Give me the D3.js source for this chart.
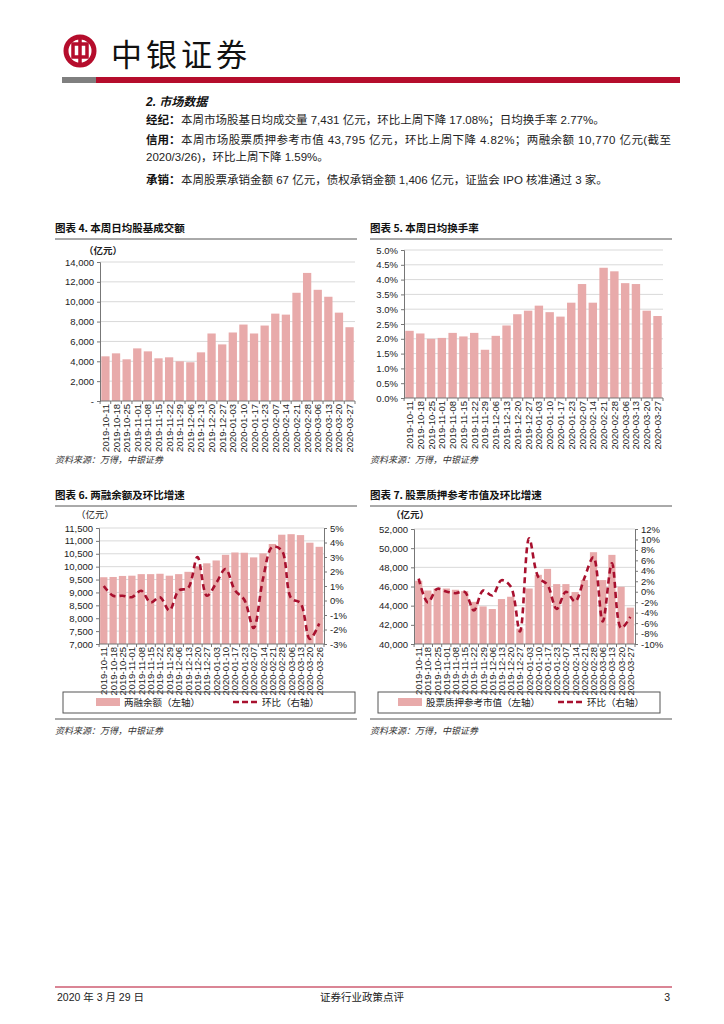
<!DOCTYPE html>
<html>
<head>
<meta charset="utf-8">
<script src="https://cdn.jsdelivr.net/npm/d3@7"></script>
<style>
body { margin: 0; background: #fff; }
svg { display: block; }
</style>
</head>
<body>
<script>
// ---- data ----
var weeksA = ["2019-10-11","2019-10-18","2019-10-25","2019-11-01","2019-11-08","2019-11-15","2019-11-22","2019-11-29","2019-12-06","2019-12-13","2019-12-20","2019-12-27","2020-01-03","2020-01-10","2020-01-17","2020-01-23","2020-02-07","2020-02-14","2020-02-21","2020-02-28","2020-03-06","2020-03-13","2020-03-20","2020-03-27"];
var weeksB = ["2019-10-11","2019-10-18","2019-10-25","2019-11-01","2019-11-08","2019-11-15","2019-11-22","2019-11-29","2019-12-06","2019-12-13","2019-12-20","2019-12-27","2020-01-03","2020-01-10","2020-01-17","2020-01-23","2020-02-07","2020-02-14","2020-02-21","2020-02-28","2020-03-06","2020-03-13","2020-03-20","2020-03-26"];

var turnoverAmt = [4500,4800,4200,5300,5000,4300,4400,4000,3900,4900,6800,5700,6900,7700,6800,7600,8800,8700,10900,12900,11200,10500,8900,7431];
var turnoverRate = [2.27,2.18,2.00,2.03,2.20,2.08,2.20,1.63,2.10,2.45,2.83,2.95,3.12,2.90,2.75,3.22,3.85,3.22,4.40,4.28,3.88,3.85,2.95,2.77];

var marginBal = [9590,9600,9640,9650,9710,9710,9725,9650,9710,9800,10000,10130,10240,10460,10550,10540,10360,10515,10880,11240,11260,11225,10930,10770];
var marginChg = [1.0,0.33,0.33,0.23,0.67,-0.14,0.23,-0.69,0.69,0.86,3.0,0.33,1.2,2.17,0.7,0.05,-1.9,1.5,3.7,3.45,0.16,-0.18,-2.65,-1.59];

var pledgeVal = [46600,45580,45790,45790,45660,45520,44400,43920,43650,44690,44930,41600,45790,47220,47840,46250,46250,45420,46670,49580,46670,49300,45970,43795];
var pledgeChg = [2.5,-2.06,0.55,0.04,-0.28,-0.02,-3.58,0.23,-0.72,2.2,1.0,-7.6,10.2,2.8,1.3,-3.3,0.0,-1.87,2.6,6.6,-5.7,5.45,-6.95,-4.82];

var ticksAmt = [0,2000,4000,6000,8000,10000,12000,14000];
var ticksRate = [0,0.5,1,1.5,2,2.5,3,3.5,4,4.5,5];
var ticksBal = [7000,7500,8000,8500,9000,9500,10000,10500,11000,11500];
var ticksBalChg = [-3,-2,-1,0,1,2,3,4,5];
var ticksPledge = [40000,42000,44000,46000,48000,50000,52000];
var ticksPledgeChg = [-10,-8,-6,-4,-2,0,2,4,6,8,10,12];

// ---- styles ----
var cjk = "'Noto Sans CJK SC', sans-serif";
var num = "'Liberation Sans Narrow', 'Arial Narrow', 'Liberation Sans', 'Noto Sans CJK SC', sans-serif";
var barColor = "#E8AAAA";
var lineColor = "#A8102E";
var red = "#B50D2C";

var svg = d3.select("body").append("svg")
    .attr("width", 724).attr("height", 1024);

// ---- header ----
svg.append("circle").attr("cx", 80).attr("cy", 51).attr("r", 14)
    .attr("fill", "none").attr("stroke", red).attr("stroke-width", 5);
svg.append("rect").attr("x", 73).attr("y", 44).attr("width", 14).attr("height", 13)
    .attr("fill", "none").attr("stroke", red).attr("stroke-width", 3.5);
svg.append("line").attr("x1", 80).attr("x2", 80).attr("y1", 37).attr("y2", 65)
    .attr("stroke", red).attr("stroke-width", 3.5);
svg.append("text").attr("x", 111).attr("y", 66)
    .attr("font-family", cjk).attr("font-size", 31).attr("letter-spacing", 4)
    .attr("fill", "#111").text("中银证券");
svg.append("rect").attr("x", 62).attr("y", 77).attr("width", 34).attr("height", 6).attr("fill", "#7F7F7F");
svg.append("rect").attr("x", 96).attr("y", 77).attr("width", 584).attr("height", 6).attr("fill", red);

// ---- text block ----
svg.append("text").attr("x", 146).attr("y", 106)
    .attr("font-family", num).attr("font-size", 12).attr("font-weight", "bold")
    .attr("font-style", "italic").attr("fill", "#111").text("2. 市场数据");

var paras = [
    {y: 124, b: "经纪：", t: "本周市场股基日均成交量 7,431 亿元，环比上周下降 17.08%；日均换手率 2.77%。", w: null},
    {y: 144, b: "信用：", t: "本周市场股票质押参考市值 43,795 亿元，环比上周下降 4.82%；两融余额 10,770 亿元(截至", w: 490},
    {y: 161, b: "", t: "2020/3/26)，环比上周下降 1.59%。", w: null},
    {y: 184, b: "承销：", t: "本周股票承销金额 67 亿元，债权承销金额 1,406 亿元，证监会 IPO 核准通过 3 家。", w: null}
];
paras.forEach(function (p) {
    var x = 146;
    if (p.b) {
        svg.append("text").attr("x", x).attr("y", p.y)
            .attr("font-family", cjk).attr("font-size", 11.5).attr("font-weight", "bold")
            .attr("fill", "#111").text(p.b);
        x += 35;
    }
    var t = svg.append("text").attr("x", x).attr("y", p.y)
        .attr("font-family", num).attr("font-size", 11.5)
        .attr("fill", "#222").text(p.t);
    if (p.w) t.attr("textLength", p.w).attr("lengthAdjust", "spacing");
});

// ---- chart helpers ----
function title(x, y, w, s) {
    svg.append("text").attr("x", x).attr("y", y)
        .attr("font-family", cjk).attr("font-size", 10.5).attr("font-weight", "bold")
        .attr("fill", "#111").text(s);
    svg.append("line").attr("x1", x).attr("x2", x + w).attr("y1", y + 7).attr("y2", y + 7)
        .attr("stroke", "#555").attr("stroke-width", 1);
}

function source(x, y) {
    svg.append("text").attr("x", x).attr("y", y)
        .attr("font-family", cjk).attr("font-size", 9).attr("font-style", "italic")
        .attr("fill", "#333").text("资料来源：万得，中银证券");
}

function drawChart(o) {
    var g = svg.append("g");
    var x = d3.scaleBand().domain(o.cats).range([o.left, o.right]).paddingInner(0.22).paddingOuter(0.12);
    var y = d3.scaleLinear().domain(o.yDomain).range([o.bottom, o.top]);

    // gridlines
    g.selectAll(".grid").data(o.yTicks.slice(1)).enter().append("line")
        .attr("x1", o.left).attr("x2", o.right)
        .attr("y1", function (d) { return y(d); }).attr("y2", function (d) { return y(d); })
        .attr("stroke", "#D9D9D9").attr("stroke-width", 1);

    // bars
    g.selectAll(".bar").data(o.vals).enter().append("rect")
        .attr("x", function (d, i) { return x(o.cats[i]); })
        .attr("width", x.bandwidth())
        .attr("y", function (d) { return y(d); })
        .attr("height", function (d) { return o.bottom - y(d); })
        .attr("fill", barColor);

    // left axis
    var ya = g.append("g").attr("transform", "translate(" + o.left + ",0)")
        .call(d3.axisLeft(y).tickValues(o.yTicks).tickSize(3).tickFormat(o.fmt));
    ya.select(".domain").attr("stroke", "#777");
    ya.selectAll(".tick line").attr("stroke", "#777");
    ya.selectAll("text").attr("font-family", num).attr("font-size", 9.5).attr("fill", "#222");

    // bottom axis
    var edges = o.cats.map(function (c) { return x(c) - x.step() * x.paddingInner() / 2; });
    edges.push(o.right);
    g.append("line").attr("x1", o.left).attr("x2", o.right).attr("y1", o.bottom).attr("y2", o.bottom)
        .attr("stroke", "#777");
    g.selectAll(".xt").data(edges).enter().append("line")
        .attr("x1", function (d) { return d; }).attr("x2", function (d) { return d; })
        .attr("y1", o.bottom).attr("y2", o.bottom + 3).attr("stroke", "#777");
    g.selectAll(".xl").data(o.cats).enter().append("text")
        .attr("transform", function (d) {
            return "translate(" + (x(d) + x.bandwidth() / 2 + 3.5) + "," + (o.bottom + 3) + ") rotate(-90)";
        })
        .attr("text-anchor", "end")
        .attr("font-family", num).attr("font-size", 9.5).attr("fill", "#222")
        .text(function (d) { return d; });

    if (o.line) {
        var y2 = d3.scaleLinear().domain(o.y2Domain).range([o.bottom, o.top]);
        var ra = g.append("g").attr("transform", "translate(" + o.right + ",0)")
            .call(d3.axisRight(y2).tickValues(o.y2Ticks).tickSize(3).tickFormat(function (d) { return d + "%"; }));
        ra.select(".domain").attr("stroke", "#777");
        ra.selectAll(".tick line").attr("stroke", "#777");
        ra.selectAll("text").attr("font-family", num).attr("font-size", 9.5).attr("fill", "#222");

        var ln = d3.line()
            .x(function (d, i) { return x(o.cats[i]) + x.bandwidth() / 2; })
            .y(function (d) { return y2(d); })
            .curve(d3.curveCatmullRom.alpha(0.5));
        g.append("path").datum(o.line)
            .attr("d", ln)
            .attr("fill", "none").attr("stroke", lineColor)
            .attr("stroke-width", 2.6).attr("stroke-dasharray", "6,4");
    }
}

function legend(o) {
    svg.append("rect").attr("x", o.x0).attr("y", 692).attr("width", o.x1 - o.x0).attr("height", 21)
        .attr("fill", "none").attr("stroke", "#555").attr("stroke-width", 1);
    svg.append("rect").attr("x", o.sw).attr("y", 698).attr("width", 24).attr("height", 8).attr("fill", barColor);
    svg.append("text").attr("x", o.sw + 28).attr("y", 706)
        .attr("font-family", cjk).attr("font-size", 9.5).attr("fill", "#222").text(o.barName);
    svg.append("line").attr("x1", o.lw).attr("x2", o.lw + 25).attr("y1", 702).attr("y2", 702)
        .attr("stroke", lineColor).attr("stroke-width", 2.6).attr("stroke-dasharray", "6,3");
    svg.append("text").attr("x", o.lw + 29).attr("y", 706)
        .attr("font-family", cjk).attr("font-size", 9.5).attr("fill", "#222").text("环比（右轴）");
    svg.append("line").attr("x1", o.x0 - 8).attr("x2", o.x0 - 8 + o.rule).attr("y1", 719).attr("y2", 719)
        .attr("stroke", "#555");
}

function unit(x, y, bold) {
    svg.append("text").attr("x", x).attr("y", y)
        .attr("font-family", cjk).attr("font-size", 9.5).attr("font-weight", bold ? "bold" : "normal")
        .attr("fill", "#222").text("（亿元）");
}

// ---- chart 4 ----
title(55, 232, 302, "图表 4. 本周日均股基成交额");
unit(84, 254, true);
drawChart({
    cats: weeksA, vals: turnoverAmt, left: 100, right: 355, top: 262, bottom: 401,
    yDomain: [0, 14000], yTicks: ticksAmt,
    fmt: function (d) { return d === 0 ? "-" : d3.format(",")(d); }
});
source(55, 463);

// ---- chart 5 ----
title(370, 232, 302, "图表 5. 本周日均换手率");
drawChart({
    cats: weeksA, vals: turnoverRate, left: 404, right: 663, top: 250, bottom: 398,
    yDomain: [0, 5], yTicks: ticksRate,
    fmt: function (d) { return d.toFixed(1) + "%"; }
});
source(370, 463);

// ---- chart 6 ----
title(55, 499, 302, "图表 6. 两融余额及环比增速");
unit(76, 518, false);
drawChart({
    cats: weeksB, vals: marginBal, left: 99, right: 324, top: 528, bottom: 644,
    yDomain: [7000, 11500], yTicks: ticksBal, fmt: d3.format(","),
    line: marginChg, y2Domain: [-3, 5], y2Ticks: ticksBalChg
});
legend({x0: 63, x1: 355, sw: 96, barName: "两融余额（左轴）", lw: 233, rule: 302});
source(55, 734);

// ---- chart 7 ----
title(370, 499, 302, "图表 7. 股票质押参考市值及环比增速");
unit(391, 518, true);
drawChart({
    cats: weeksA, vals: pledgeVal, left: 414, right: 635, top: 529, bottom: 644,
    yDomain: [40000, 52000], yTicks: ticksPledge, fmt: d3.format(","),
    line: pledgeChg, y2Domain: [-10, 12], y2Ticks: ticksPledgeChg
});
legend({x0: 378, x1: 660, sw: 398, barName: "股票质押参考市值（左轴）", lw: 558, rule: 302});
source(370, 734);

// ---- footer ----
svg.append("line").attr("x1", 55).attr("x2", 672).attr("y1", 987).attr("y2", 987)
    .attr("stroke", red).attr("stroke-width", 1.2);
svg.append("text").attr("x", 57).attr("y", 1001)
    .attr("font-family", num).attr("font-size", 10.5).attr("fill", "#222").text("2020 年 3 月 29 日");
svg.append("text").attr("x", 362).attr("y", 1001).attr("text-anchor", "middle")
    .attr("font-family", cjk).attr("font-size", 10.5).attr("fill", "#222").text("证券行业政策点评");
svg.append("text").attr("x", 670).attr("y", 1001).attr("text-anchor", "end")
    .attr("font-family", num).attr("font-size", 10.5).attr("fill", "#222").text("3");
</script>
</body>
</html>
